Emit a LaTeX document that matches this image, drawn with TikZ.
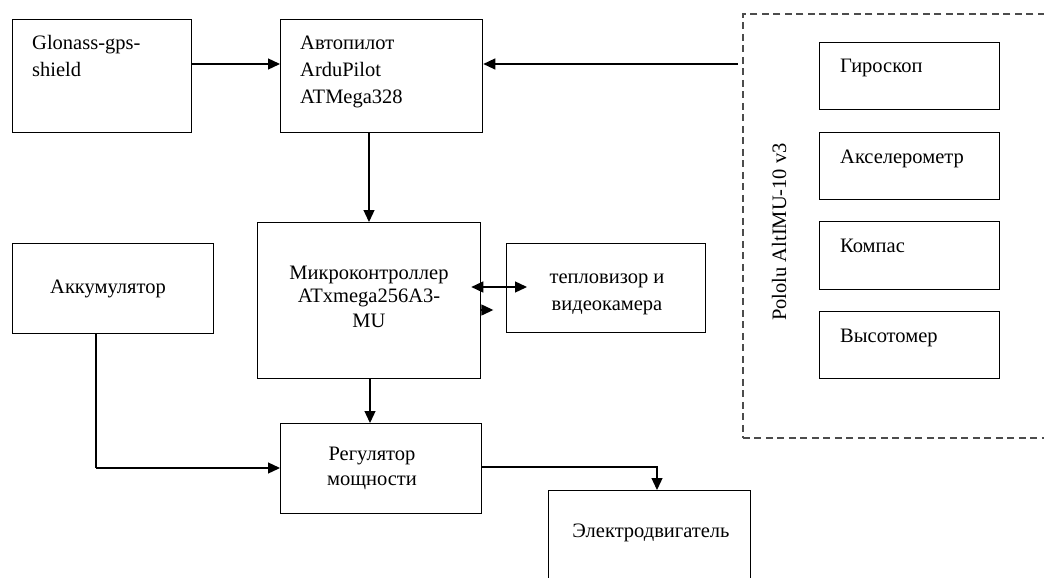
\documentclass[tikz,border=0pt]{standalone}
\usepackage{fontspec}
\setmainfont{Liberation Serif}
\usetikzlibrary{arrows.meta}
\begin{document}
\begin{tikzpicture}[x=1pt,y=-1pt,
  box/.style={draw=black,line width=1.3pt,inner sep=0pt,anchor=north west},
  dashbox/.style={draw=black!70,line width=1.8pt,dash pattern=on 7pt off 4.5pt,inner sep=0pt,anchor=north west},
  lt/.style={inner sep=0pt,anchor=base west,font=\fontsize{20.5}{24}\selectfont},
  ct/.style={inner sep=0pt,anchor=base,font=\fontsize{20.5}{24}\selectfont},
  st/.style={inner sep=0pt,anchor=base,font=\fontsize{20.5}{24}\selectfont},
  conn/.style={line width=1.3pt},
  arr/.style={line width=1.3pt,-{Triangle[length=12pt,width=11pt]}},
]
\useasboundingbox[fill=white] (0,0) rectangle (1044,578);

% boxes
\node[box,minimum width=179pt,minimum height=113pt] (gl) at (12,19) {};
\node[box,minimum width=202pt,minimum height=113pt] (ap) at (280,19) {};
\node[box,minimum width=223pt,minimum height=156pt] (mc) at (257,222) {};
\node[box,minimum width=199pt,minimum height=89pt] (th) at (506,243) {};
\node[box,minimum width=201pt,minimum height=90pt] (ak) at (12,243) {};
\node[box,minimum width=201pt,minimum height=90pt] (rg) at (280,423) {};
\node[box,minimum width=202pt,minimum height=92pt] (el) at (548,490) {};
\node[dashbox,minimum width=330pt,minimum height=424pt] (imu) at (742,13) {};
\node[box,minimum width=180pt,minimum height=67pt] (gy) at (819,42) {};
\node[box,minimum width=180pt,minimum height=67pt] (acc) at (819,132) {};
\node[box,minimum width=180pt,minimum height=68pt] (km) at (819,221) {};
\node[box,minimum width=180pt,minimum height=67pt] (vy) at (819,311) {};

% texts
\node[lt] (gl1) at (32,50) {Glonass-gps-};
\node[lt] (gl2) at (32,77) {shield};
\node[lt] (ap1) at (300,50) {Автопилот};
\node[lt] (ap2) at (300,77) {ArduPilot};
\node[lt] (ap3) at (300,103) {ATMega328};
\node[ct] (mc1) at (369,279) {Микроконтроллер};
\node[ct] (mc2) at (369,302) {ATxmega256A3-};
\node[ct] (mc3) at (369,327) {MU};
\node[st] (th1) at (607,283) {тепловизор и};
\node[st] (th2) at (607,310) {видеокамера};
\node[ct] (ak1) at (108,293) {Аккумулятор};
\node[ct] (rg1) at (372,460) {Регулятор};
\node[ct] (rg2) at (372,485) {мощности};
\node[ct] (el1) at (651,537) {Электродвигатель};
\node[lt] (gy1) at (840,73) {Гироскоп};
\node[lt] (acc1) at (840,163) {Акселерометр};
\node[lt] (km1) at (840,252) {Компас};
\node[lt] (vy1) at (840,342) {Высотомер};
\node[ct,rotate=90] (imu1) at (786,232) {Pololu AltIMU-10 v3};

% connectors
\draw[arr] (gl.east |- 0,64) -- (ap.west |- 0,64);
\draw[arr] ([xshift=-4pt]imu.west |- 0,64) -- (ap.east |- 0,64);
\draw[arr] (ap.south -| 369,0) -- (mc.north -| 369,0);
\draw[arr] (mc.south -| 370,0) -- (rg.north -| 370,0);
\draw[conn] (ak.south -| 96,0) -- (96,468) coordinate (c1);
\draw[arr] (c1) -- (rg.west |- c1);
\draw[arr] (rg.east |- 0,467) -| (el.north -| 657,0);
\draw[line width=1.3pt,{Triangle[length=12pt,width=11pt]}-{Triangle[length=12pt,width=11pt]}]
  ([xshift=-10pt]mc.east |- 0,287) -- ([xshift=21pt]th.west |- 0,287);
\draw[arr] (mc.east |- 0,310) -- ++(12,0);
\end{tikzpicture}
\end{document}
